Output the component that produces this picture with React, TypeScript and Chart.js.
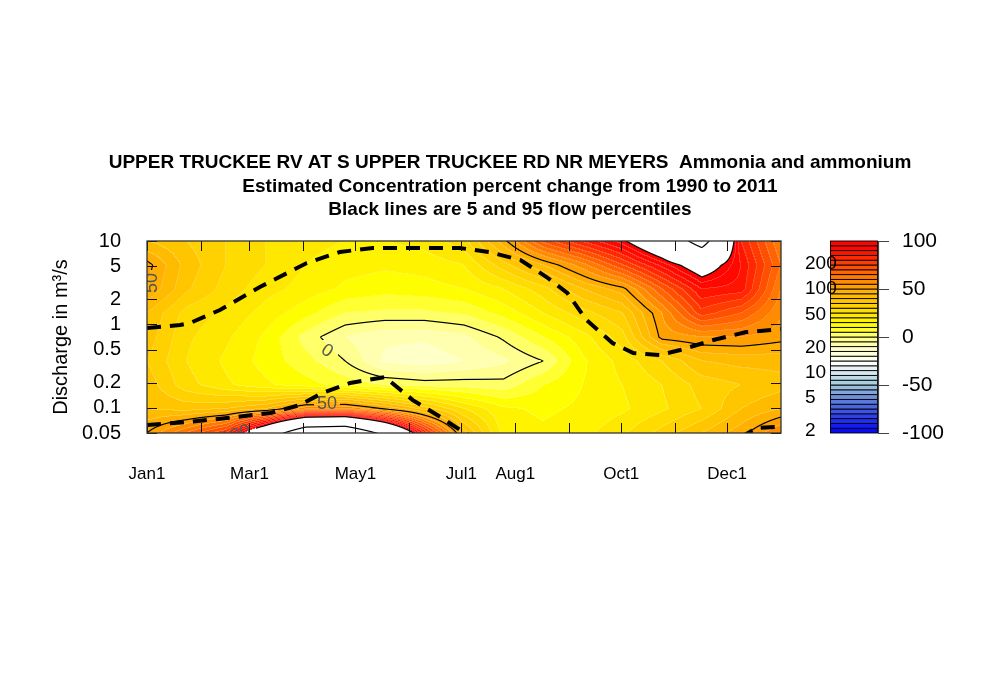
import React, { useEffect, useRef } from "react";
import { Chart, registerables } from "chart.js";

Chart.register(...registerables);

const FONT = "'Liberation Sans', Arial, Helvetica, sans-serif";

const titleLines = [
  "UPPER TRUCKEE RV AT S UPPER TRUCKEE RD NR MEYERS  Ammonia and ammonium",
  "Estimated Concentration percent change from 1990 to 2011",
  "Black lines are 5 and 95 flow percentiles",
];
const yAxisTitle = "Discharge in m³/s";

// Surface grid: day of year (columns) and discharge (rows, top to bottom)
const gridDays = [0, 22.8, 45.6, 68.4, 91.3, 114.1, 136.9, 159.7, 182.5, 205.3, 228.1, 250.9, 273.8, 296.6, 319.4, 342.2, 365];
const gridDischarge = [10, 5.16, 2.66, 1.37, 0.707, 0.365, 0.188, 0.097, 0.05];

// Percent change values for each discharge row
const pctAtQ10 = [40, 35, 30, 25, 22, 20, 20, 22, 28, 48, 72, 86, 98, 120, 165, 85, 60];
const pctAtQ5 = [52, 38, 30, 25, 20, 17, 16, 17, 20, 33, 45, 58, 75, 92, 110, 90, 65];
const pctAtQ2_7 = [50, 36, 28, 22, 18, 14, 12, 13, 15, 20, 28, 40, 48, 70, 90, 88, 60];
const pctAtQ1_4 = [40, 28, 24, 18, 12, 5, 4, 4, 6, 12, 20, 28, 35, 55, 78, 70, 56];
const pctAtQ0_7 = [38, 26, 21, 14, 3, -5, -9, -9, -6, 1, 10, 18, 28, 52, 55, 55, 52];
const pctAtQ0_37 = [35, 25, 19, 13, 7, 0, -11, -13, -10, -6, 0, 14, 22, 30, 40, 42, 42];
const pctAtQ0_19 = [38, 27, 21, 16, 12, 8, 5, 3, 3, 2, 10, 15, 20, 25, 32, 35, 38];
const pctAtQ0_1 = [40, 38, 40, 45, 58, 60, 50, 38, 25, 16, 14, 16, 19, 24, 30, 40, 45];
const pctAtQ0_05 = [50, 65, 80, 125, 180, 185, 140, 85, 42, 18, 16, 18, 24, 32, 40, 48, 60];
const percentGrid = [pctAtQ10, pctAtQ5, pctAtQ2_7, pctAtQ1_4, pctAtQ0_7, pctAtQ0_37, pctAtQ0_19, pctAtQ0_1, pctAtQ0_05];

// Flow percentile lines
const flow95Days = [0, 19, 24.8, 42, 65, 92, 111, 130, 180, 197, 215, 230, 242, 253, 268, 280, 295, 307, 326, 345, 365];
const flow95Q = [0.906, 0.984, 1.04, 1.49, 2.81, 5.45, 7.38, 8.24, 8.24, 7.38, 5.92, 3.7, 2.38, 1.13, 0.599, 0.455, 0.43, 0.494, 0.65, 0.81, 0.88];
const flow5Days = [0, 23, 46, 71, 88, 101, 117, 137, 153, 169, 182, 192, 338, 351, 365];
const flow5Q = [0.0623, 0.0677, 0.0755, 0.0868, 0.108, 0.151, 0.199, 0.234, 0.124, 0.0776, 0.0514, 0.04, 0.04, 0.0574, 0.0597];

// Axes
const monthTickDays = [0, 31, 59, 90, 120, 151, 181, 212, 243, 273, 304, 334];
const monthTickLabels = ["Jan1", "", "Mar1", "", "May1", "", "Jul1", "Aug1", "", "Oct1", "", "Dec1"];
const yTickValues = [0.05, 0.1, 0.2, 0.5, 1, 2, 5, 10];
const yTickLabels = ["0.05", "0.1", "0.2", "0.5", "1", "2", "5", "10"];

// Colour bar
const colorLevels = [-100, -95, -90, -85, -80, -75, -70, -65, -60, -55, -50, -45, -40, -35, -30, -25, -20, -15, -10, -5, 0, 5, 10, 15, 20, 25, 30, 35, 40, 45, 50, 55, 60, 65, 70, 75, 80, 85, 90, 95, 100];
const colorbarTicks = [100, 50, 0, -50, -100];
const colorbarTickLabels = ["100", "50", "0", "-50", "-100"];
const colorbarLogValues = [200, 100, 50, 20, 10, 5, 2];
const colorbarLogLabels = ["200", "100", "50", "20", "10", "5", "2"];
const paletteValues = [-100, -70, -50, -27, -10, 0, 12, 50, 70, 90, 100];
const paletteColors = [
  [0, 0, 255],
  [80, 110, 220],
  [160, 200, 220],
  [255, 255, 255],
  [255, 255, 190],
  [255, 255, 130],
  [255, 255, 0],
  [255, 170, 0],
  [255, 90, 0],
  [255, 10, 0],
  [255, 0, 0],
];

// Contour lines and labels
const contourLineLevels = [-50, 0, 50, 100, 150];
const contourLabelText = ["0", "50", "50", "100"];
const contourLabelDay = [103.6, 103.6, 2.9, 51.2];
const contourLabelQ = [0.481, 0.111, 3.14, 0.0473];
const contourLabelAngle = [0.6, 0, -Math.PI / 2, -0.35];

function colorAt(v: number): number[] {
  let k = 0;
  while (k < paletteValues.length - 2 && v > paletteValues[k + 1]) k++;
  const f = Math.max(0, Math.min(1, (v - paletteValues[k]) / (paletteValues[k + 1] - paletteValues[k])));
  const a = paletteColors[k];
  const b = paletteColors[k + 1];
  return [0, 1, 2].map((c) => Math.round(a[c] + (b[c] - a[c]) * f));
}

function bandColor(i: number): number[] {
  return colorAt((colorLevels[i] + colorLevels[i + 1]) / 2);
}

function bandIndex(v: number): number {
  const lo = colorLevels[0];
  const hi = colorLevels[colorLevels.length - 1];
  if (v >= hi || v < lo) return -1;
  const step = colorLevels[1] - colorLevels[0];
  return Math.min(colorLevels.length - 2, Math.floor((v - lo) / step));
}

function surfaceValue(day: number, lq: number, logQ: number[]): number {
  const nx = gridDays.length;
  const ny = logQ.length;
  let i = 0;
  while (i < nx - 2 && day > gridDays[i + 1]) i++;
  let tx = (day - gridDays[i]) / (gridDays[i + 1] - gridDays[i]);
  tx = Math.max(0, Math.min(1, tx));
  let j = 0;
  while (j < ny - 2 && lq < logQ[j + 1]) j++;
  let ty = (logQ[j] - lq) / (logQ[j] - logQ[j + 1]);
  ty = Math.max(0, Math.min(1, ty));
  const a = percentGrid[j][i];
  const b = percentGrid[j][i + 1];
  const c = percentGrid[j + 1][i];
  const d = percentGrid[j + 1][i + 1];
  return a * (1 - tx) * (1 - ty) + b * tx * (1 - ty) + c * (1 - tx) * ty + d * tx * ty;
}

const contourFillPlugin = {
  id: "contourFill",
  beforeDatasetsDraw(chart: any) {
    const { ctx, chartArea: a, scales } = chart;
    const xs = scales.x;
    const ys = scales.y;
    const x0 = Math.round(a.left);
    const y0 = Math.round(a.top);
    const W = Math.round(a.right) - x0;
    const H = Math.round(a.bottom) - y0;
    const logQ = gridDischarge.map((q) => Math.log10(q));
    const colDay = new Float32Array(W);
    for (let x = 0; x < W; x++) colDay[x] = xs.getValueForPixel(x0 + x + 0.5);
    const rowLq = new Float32Array(H);
    for (let y = 0; y < H; y++) rowLq[y] = Math.log10(ys.getValueForPixel(y0 + y + 0.5));
    const vals = new Float32Array(W * H);
    const bands = new Int16Array(W * H);
    for (let y = 0; y < H; y++) {
      for (let x = 0; x < W; x++) {
        const v = surfaceValue(colDay[x], rowLq[y], logQ);
        vals[y * W + x] = v;
        bands[y * W + x] = bandIndex(v);
      }
    }
    const colors: number[][] = [];
    for (let i = 0; i < colorLevels.length - 1; i++) colors.push(bandColor(i));

    ctx.save();
    ctx.font = `18px ${FONT}`;
    const gaps = contourLabelText.map((t, i) => {
      const cx = xs.getPixelForValue(contourLabelDay[i]);
      const cy = ys.getPixelForValue(contourLabelQ[i]);
      const tw = ctx.measureText(t).width + 6;
      const th = 16;
      const ang = contourLabelAngle[i];
      const w = Math.abs(Math.cos(ang)) * tw + Math.abs(Math.sin(ang)) * th;
      const h = Math.abs(Math.sin(ang)) * tw + Math.abs(Math.cos(ang)) * th;
      return { x1: cx - w / 2, x2: cx + w / 2, y1: cy - h / 2, y2: cy + h / 2 };
    });
    ctx.restore();

    const off = document.createElement("canvas");
    off.width = W;
    off.height = H;
    const octx = off.getContext("2d")!;
    const img = octx.createImageData(W, H);
    const data = img.data;
    for (let y = 0; y < H; y++) {
      for (let x = 0; x < W; x++) {
        const k = y * W + x;
        const b = bands[k];
        const col = b < 0 ? [255, 255, 255] : colors[b];
        let r = col[0], g = col[1], bl = col[2];
        const seam = (x < W - 1 && bands[k + 1] !== b) || (y < H - 1 && bands[k + W] !== b);
        if (seam && b >= 0) {
          r = r + (255 - r) * 0.2;
          g = g + (255 - g) * 0.2;
          bl = bl + (255 - bl) * 0.2;
        }
        const v = vals[k];
        const vl = x > 0 ? vals[k - 1] : v;
        const vr = x < W - 1 ? vals[k + 1] : v;
        const vu = y > 0 ? vals[k - W] : v;
        const vd = y < H - 1 ? vals[k + W] : v;
        const gx = (vr - vl) / (x > 0 && x < W - 1 ? 2 : 1);
        const gy = (vd - vu) / (y > 0 && y < H - 1 ? 2 : 1);
        const grad = Math.hypot(gx, gy) + 1e-6;
        let dmin = 1e9;
        for (const L of contourLineLevels) {
          const d = Math.abs(v - L) / grad;
          if (d < dmin) dmin = d;
        }
        let alpha = Math.max(0, Math.min(1, 1.1 - dmin));
        if (alpha > 0) {
          const px = x0 + x + 0.5;
          const py = y0 + y + 0.5;
          for (const gp of gaps) {
            if (px >= gp.x1 && px <= gp.x2 && py >= gp.y1 && py <= gp.y2) {
              alpha = 0;
              break;
            }
          }
        }
        data[k * 4] = r * (1 - alpha);
        data[k * 4 + 1] = g * (1 - alpha);
        data[k * 4 + 2] = bl * (1 - alpha);
        data[k * 4 + 3] = 255;
      }
    }
    octx.putImageData(img, 0, 0);
    ctx.save();
    ctx.drawImage(off, x0, y0);

    ctx.beginPath();
    ctx.rect(a.left, a.top, a.right - a.left, a.bottom - a.top);
    ctx.clip();
    ctx.fillStyle = "#555";
    ctx.font = `18px ${FONT}`;
    ctx.textAlign = "center";
    ctx.textBaseline = "middle";
    contourLabelText.forEach((t, i) => {
      ctx.save();
      ctx.translate(xs.getPixelForValue(contourLabelDay[i]), ys.getPixelForValue(contourLabelQ[i]));
      ctx.rotate(contourLabelAngle[i]);
      ctx.fillText(t, 0, 0);
      ctx.restore();
    });
    ctx.restore();
  },
};

const framePlugin = {
  id: "frameTicks",
  afterDatasetsDraw(chart: any) {
    const { ctx, chartArea: a, scales } = chart;
    const xs = scales.x;
    const ys = scales.y;
    const tl = 10;
    ctx.save();
    ctx.strokeStyle = "#111";
    ctx.lineWidth = 1;
    ctx.beginPath();
    monthTickDays.forEach((d) => {
      const px = Math.round(xs.getPixelForValue(d)) + 0.5;
      ctx.moveTo(px, a.bottom);
      ctx.lineTo(px, a.bottom - tl);
      ctx.moveTo(px, a.top);
      ctx.lineTo(px, a.top + tl);
    });
    yTickValues.forEach((q) => {
      const py = Math.round(ys.getPixelForValue(q)) + 0.5;
      ctx.moveTo(a.left, py);
      ctx.lineTo(a.left + tl, py);
      ctx.moveTo(a.right, py);
      ctx.lineTo(a.right - tl, py);
    });
    ctx.stroke();
    ctx.strokeStyle = "#333";
    ctx.lineWidth = 1.3;
    ctx.strokeRect(a.left, a.top, a.right - a.left, a.bottom - a.top);
    ctx.restore();
  },
};

const decorPlugin = {
  id: "decor",
  afterDraw(chart: any) {
    const { ctx, scales } = chart;
    const cb = scales.cb;
    const cbLog = scales.cbLog;
    ctx.save();
    ctx.fillStyle = "#000";
    ctx.font = `bold 19px ${FONT}`;
    ctx.textAlign = "center";
    ctx.textBaseline = "middle";
    const titleY = [163, 187, 210];
    titleLines.forEach((t, i) => ctx.fillText(t, 510, titleY[i]));

    const bx1 = 830;
    const bx2 = 878;
    for (let i = 0; i < colorLevels.length - 1; i++) {
      const yTop = cb.getPixelForValue(colorLevels[i + 1]);
      const yBot = cb.getPixelForValue(colorLevels[i]);
      const c = bandColor(i);
      ctx.fillStyle = `rgb(${c[0]},${c[1]},${c[2]})`;
      ctx.fillRect(bx1, yTop, bx2 - bx1, yBot - yTop);
      ctx.strokeStyle = "#000";
      ctx.lineWidth = 0.9;
      ctx.strokeRect(bx1 + 0.5, yTop, bx2 - bx1 - 1, yBot - yTop);
    }
    ctx.strokeStyle = "#444";
    ctx.lineWidth = 1.2;
    ctx.beginPath();
    ctx.moveTo(bx2 + 0.5, cb.getPixelForValue(100));
    ctx.lineTo(bx2 + 0.5, cb.getPixelForValue(-100));
    colorbarTicks.forEach((v) => {
      const py = Math.round(cb.getPixelForValue(v)) + 0.5;
      ctx.moveTo(bx2, py);
      ctx.lineTo(bx2 + 11, py);
    });
    ctx.stroke();
    ctx.fillStyle = "#000";
    ctx.font = `21px ${FONT}`;
    ctx.textAlign = "left";
    colorbarTicks.forEach((v, i) => {
      ctx.fillText(colorbarTickLabels[i], 902, cb.getPixelForValue(v));
    });
    ctx.font = `19px ${FONT}`;
    colorbarLogValues.forEach((v, i) => {
      ctx.fillText(colorbarLogLabels[i], 805, cbLog.getPixelForValue(v) - 2);
    });
    ctx.restore();
  },
};

export default function App() {
  const ref = useRef<HTMLCanvasElement>(null);
  useEffect(() => {
    if (!ref.current) return;
    Chart.defaults.font.family = FONT;
    const chart = new Chart(ref.current, {
      type: "line",
      data: {
        datasets: [
          {
            label: "95th percentile flow",
            data: flow95Days.map((d, i) => ({ x: d, y: flow95Q[i] })),
            borderColor: "#000",
            borderWidth: 4,
            borderDash: [14, 9],
            pointRadius: 0,
            tension: 0,
            fill: false,
            clip: 0,
          },
          {
            label: "5th percentile flow",
            data: flow5Days.map((d, i) => ({ x: d, y: flow5Q[i] })),
            borderColor: "#000",
            borderWidth: 4,
            borderDash: [14, 9],
            pointRadius: 0,
            tension: 0,
            fill: false,
            clip: 0,
          },
        ],
      },
      options: {
        responsive: false,
        animation: false,
        events: [],
        layout: { padding: { left: 0, right: 219, top: 241, bottom: 0 } },
        plugins: {
          legend: { display: false },
          tooltip: { enabled: false },
          title: { display: false },
        },
        scales: {
          x: {
            type: "linear",
            position: "bottom",
            min: 0,
            max: 365,
            grid: { display: false, drawTicks: false },
            border: { display: false },
            afterBuildTicks: (s: any) => {
              s.ticks = monthTickDays.map((v) => ({ value: v }));
            },
            afterFit: (s: any) => {
              s.height = 267;
            },
            ticks: {
              autoSkip: false,
              maxRotation: 0,
              minRotation: 0,
              padding: 31,
              color: "#000",
              font: { family: FONT, size: 17 },
              callback: (_v: any, i: number) => monthTickLabels[i],
            },
          },
          y: {
            type: "logarithmic",
            position: "left",
            min: 0.05,
            max: 10,
            grid: { display: false, drawTicks: false },
            border: { display: false },
            afterBuildTicks: (s: any) => {
              s.ticks = yTickValues.map((v) => ({ value: v }));
            },
            afterFit: (s: any) => {
              s.width = 147;
            },
            ticks: {
              autoSkip: false,
              padding: 26,
              color: "#000",
              font: { family: FONT, size: 20 },
              callback: (_v: any, i: number) => yTickLabels[i],
            },
            title: {
              display: true,
              text: yAxisTitle,
              color: "#000",
              font: { family: FONT, size: 20 },
              padding: { top: 49, bottom: 0 },
            },
          },
          cb: { type: "linear", position: "right", min: -100, max: 100, display: false },
          cbLog: { type: "logarithmic", position: "right", min: 2, max: 400, display: false },
        },
      } as any,
      plugins: [contourFillPlugin, framePlugin, decorPlugin],
    });
    return () => chart.destroy();
  }, []);
  return (
    <div style={{ position: "fixed", left: 0, top: 0, width: 1000, height: 700, background: "#fff" }}>
      <canvas ref={ref} width={1000} height={700} style={{ width: 1000, height: 700, display: "block" }} />
    </div>
  );
}
